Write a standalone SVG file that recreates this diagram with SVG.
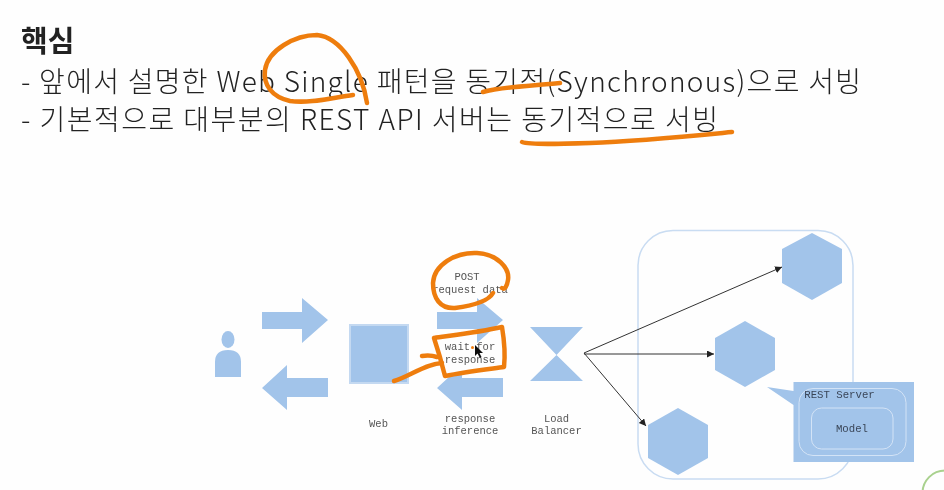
<svg xmlns="http://www.w3.org/2000/svg" width="944" height="490" viewBox="0 0 944 490">
<style>
.h{font-family:"Noto Sans CJK KR","Noto Sans",sans-serif;fill:#222}
.l{font-size:28px;font-weight:300}
.m{font-family:"Liberation Mono",monospace;font-size:10.5px;fill:#555;text-anchor:middle}
.s{fill:#3a4658;font-size:10.700px}
.b{fill:#a2c4ea}
.o{fill:none;stroke:#ee7d11;stroke-width:4.500;stroke-linecap:round;stroke-linejoin:round}
.c{stroke:#333;stroke-width:1;fill:none;marker-end:url(#a)}
</style>
<defs>
<marker id="a" markerUnits="userSpaceOnUse" markerWidth="8" markerHeight="8" refX="7" refY="3.500" orient="auto"><path d="M0 0L7 3.500L0 7z" fill="#222"/></marker>
<filter id="soft" x="0" y="0" width="100%" height="100%"><feGaussianBlur stdDeviation="0.350"/></filter>
</defs>
<rect width="944" height="490" fill="#fefefe"/>
<g filter="url(#soft)">
<g id="title">
<text class="h" x="21" y="52" font-size="29" font-weight="700">핵심</text>
<text class="h l" x="21" y="92" textLength="840">- 앞에서 설명한 Web Single 패턴을 동기적(Synchronous)으로 서빙</text>
<text class="h l" x="21" y="130" textLength="697">- 기본적으로 대부분의 REST API 서버는 동기적으로 서빙</text>
</g>
<g id="container"><rect x="638" y="230.500" width="215" height="248.500" rx="35" fill="none" stroke="#c9dcf2" stroke-width="1.500"/></g>
<g id="connectors">
<path class="c" d="M584 353L782 267"/>
<path class="c" d="M584 354L714 354"/>
<path class="c" d="M584 353L646 426"/>
</g>
<g id="user"><ellipse class="b" cx="228" cy="339.500" rx="6.500" ry="8.500"/><path class="b" d="M215 377V362Q215 350 228 350Q241 350 241 362V377z"/></g>
<g id="arrow-request"><path class="b" d="M262 312H302V298L328 320L302 343V329H262z"/></g>
<g id="arrow-response"><path class="b" d="M328 378H287V365L262 388L287 410V397H328z"/></g>
<g id="web"><rect class="b" x="350" y="325" width="58" height="58" stroke="#c4d9f1" stroke-width="2"/><text class="m" x="378.500" y="427">Web</text></g>
<g id="arrow-post"><path class="b" d="M437 312H477V298L503 320L477 343V329H437z"/><text class="m" x="467" y="280">POST</text><text class="m" x="470" y="293">request data</text></g>
<g id="arrow-inference"><path class="b" d="M503 378H462V365L437 388L462 410V397H503z"/><text class="m" x="470" y="422">response</text><text class="m" x="470" y="434">inference</text></g>
<g id="wait"><rect x="437" y="344" width="66" height="30" fill="#fefefe"/><text class="m" x="470" y="350">wait for</text><text class="m" x="470" y="363">response</text></g>
<g id="load-balancer"><path class="b" d="M530 327H583L556.500 355L583 381H530L556.500 355z"/><text class="m" x="556.500" y="422">Load</text><text class="m" x="556.500" y="434">Balancer</text></g>
<g id="server-1"><path class="b" d="M812 233L842 249V283L812 300L782 283V249z"/></g>
<g id="server-2"><path class="b" d="M745 321L775 338V370L745 387L715 370V338z"/></g>
<g id="server-3"><path class="b" d="M678 408L708 425V458L678 475L648 458V425z"/></g>
<g id="rest-server">
<path class="b" d="M793.500 382H914V462H793.500V405L767 387L793.500 391z"/>
<rect x="799" y="388.500" width="107" height="67" rx="14" fill="none" stroke="#d3e3f6" stroke-width="1"/>
<rect x="811.500" y="408" width="81.500" height="41" rx="10" fill="none" stroke="#d3e3f6" stroke-width="1"/>
<text class="m s" x="839.500" y="398">REST Server</text>
<text class="m s" x="852" y="432">Model</text>
</g>
<circle cx="945" cy="493" r="22.500" fill="none" stroke="#a9d18e" stroke-width="2"/>
<g id="annotations">
<path class="o" d="M353 95C335 97 310 104 290 101C272 97 263 85 265 70C268 50 295 35 317 35C340 37 362 70 367 103"/>
<path class="o" d="M483 92C500 87 530 86 560 83"/>
<path class="o" d="M522 142C530 145 560 144 590 143C640 141 690 136 732 132"/>
<path class="o" d="M493 293C488 302 470 306 455 308C440 309 433 298 433 283C434 265 455 252 477 253C497 254 510 268 508 280C507 286 505 290 502 288"/>
<path class="o" d="M434 338C455 335 480 332 502 327C505 345 505 358 504 367C490 369 465 372 445 376C441 360 438 350 434 338"/>
<path class="o" d="M394 381C410 376 425 364 442 363M422 356C428 355 434 356 437 357"/>
<circle cx="472.500" cy="347.500" r="1.500" fill="#ee7d11"/>
</g>
<path d="M475 345V356L477.500 353.500L480 358L481.500 357L479.500 353H483z" fill="#111"/>
</g>
</svg>
